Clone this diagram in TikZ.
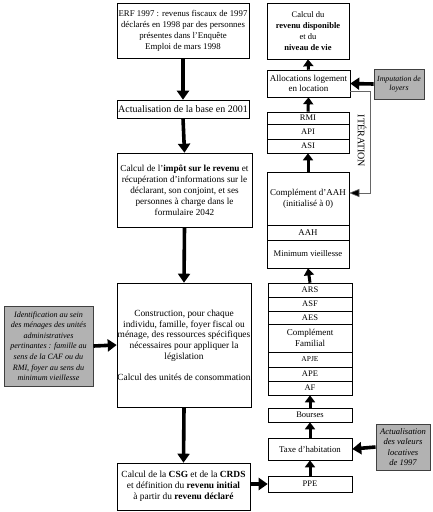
\documentclass[tikz,border=0pt]{standalone}
\usepackage{fontspec}
\setmainfont{Liberation Serif}
\usetikzlibrary{arrows.meta}
\begin{document}
\begin{tikzpicture}[x=1pt,y=-1pt,
  box/.style={draw, line width=0.6pt, inner sep=0pt, align=center, anchor=center,
    font=\fontsize{8.8}{11}\selectfont},
  rbox/.style={box, font=\fontsize{8.5}{10}\selectfont},
  gbox/.style={draw=black!75, fill=black!30, line width=0.9pt, inner sep=0pt, align=center,
    anchor=center, font=\itshape\fontsize{8.1}{10.6}\selectfont},
  bigarrow/.style={line width=3.6pt, -{Triangle[width=12pt,length=9pt]}},
  smallarrow/.style={line width=3pt, -{Triangle[width=10pt,length=7pt]}},
  iter/.style={draw=black!60, line width=0.6pt, -{Triangle[width=8pt,length=10pt,fill=black]}}
]
\useasboundingbox (0,0) rectangle (433,512);
\fill[white] (0,0) rectangle (433,512);

% left column
\node[box, minimum width=132pt, minimum height=55pt] (erf) at (183,30.5)
  {ERF 1997 : revenus fiscaux de 1997\\ déclarés en 1998 par des personnes\\ présentes dans l'Enquête\\ Emploi de mars 1998};
\node[box, minimum width=132pt, minimum height=18pt, font=\fontsize{10}{12}\selectfont] (actu) at (183,109)
  {Actualisation de la base en 2001};
\node[box, minimum width=135pt, minimum height=74pt, font=\fontsize{9.2}{11}\selectfont] (impot) at (184.5,190)
  {Calcul de l'\textbf{impôt sur le revenu} et\\ récupération d'informations sur le\\ déclarant, son conjoint, et ses\\ personnes à charge dans le\\ formulaire 2042};
\node[box, minimum width=134pt, minimum height=124pt, font=\fontsize{9.4}{10.8}\selectfont] (constr) at (184,345)
  {Construction, pour chaque\\ individu, famille, foyer fiscal ou\\ ménage, des ressources spécifiques\\ nécessaires pour appliquer la\\ législation\\[10pt] Calcul des unités de consommation};
\node[box, minimum width=133pt, minimum height=47pt, font=\fontsize{9.4}{11}\selectfont] (csg) at (183.5,486.5)
  {Calcul de la \textbf{CSG} et de la \textbf{CRDS}\\ et définition du \textbf{revenu initial}\\ à partir du \textbf{revenu déclaré}};

% right column
\node[box, minimum width=82pt, minimum height=56pt, font=\fontsize{8.5}{11}\selectfont] (revdisp) at (308,31)
  {Calcul du\\ \textbf{revenu disponible}\\ et du\\ \textbf{niveau de vie}};
\node[box, minimum width=83pt, minimum height=27pt, font=\fontsize{9}{10.5}\selectfont] (alloc) at (308.5,83.5)
  {Allocations logement\\ en location};
\node[rbox, minimum width=82pt, minimum height=12pt] (rmi) at (308,118) {RMI};
\node[rbox, minimum width=82pt, minimum height=15pt] (api) at (308,131.5) {API};
\node[rbox, minimum width=82pt, minimum height=14pt] (asi) at (308,146) {ASI};

\node[box, minimum width=82pt, minimum height=53pt, font=\fontsize{9}{11}\selectfont] (caah) at (308,198.5)
  {Complément d'AAH\\ (initialisé à 0)};
\node[rbox, minimum width=82pt, minimum height=15pt, font=\fontsize{8.8}{10}\selectfont] (aah) at (308,232.5) {AAH};
\node[rbox, minimum width=82pt, minimum height=28pt, font=\fontsize{8.6}{10}\selectfont] (minv) at (308,254) {Minimum vieillesse};

\node[rbox, minimum width=84pt, minimum height=14pt] (ars) at (310,290) {ARS};
\node[rbox, minimum width=84pt, minimum height=14pt] (asf) at (310,304) {ASF};
\node[rbox, minimum width=84pt, minimum height=13pt] (aes) at (310,317.5) {AES};
\node[rbox, minimum width=84pt, minimum height=28pt, font=\fontsize{9}{11}\selectfont] (cf) at (310,338) {Complément\\ Familial};
\node[rbox, minimum width=84pt, minimum height=15pt, font=\fontsize{7.5}{9}\selectfont] (apje) at (310,359.5) {APJE};
\node[rbox, minimum width=84pt, minimum height=14pt] (ape) at (310,374) {APE};
\node[rbox, minimum width=84pt, minimum height=14pt] (af) at (310,388) {AF};

\node[rbox, minimum width=84pt, minimum height=14pt] (bourses) at (310,415) {Bourses};
\node[rbox, minimum width=84pt, minimum height=22pt, font=\fontsize{8.8}{10}\selectfont] (taxe) at (310,449) {Taxe d'habitation};
\node[rbox, minimum width=84pt, minimum height=16pt] (ppe) at (310,484) {PPE};

% grey boxes
\node[gbox, minimum width=50pt, minimum height=30pt, font=\itshape\fontsize{7.8}{9.5}\selectfont] (imput) at (399,84)
  {Imputation de\\ loyers};
\node[gbox, minimum width=54pt, minimum height=46pt, font=\itshape\fontsize{8.6}{10.5}\selectfont] (actval) at (403,447)
  {Actualisation\\ des valeurs\\ locatives\\ de 1997};
\node[gbox, minimum width=89pt, minimum height=80pt] (ident) at (48.5,346)
  {Identification au sein\\ des ménages des unités\\ administratives\\ pertinantes : famille au\\ sens de la CAF ou du\\ RMI, foyer au sens du\\ minimum vieillesse};

% left column arrows
\draw[bigarrow] (erf.south) -- (actu.north);
\draw[bigarrow] (actu.south) -- (impot.north);
\draw[bigarrow] (impot.south) -- (constr.north);
\draw[bigarrow] (constr.south) -- (csg.north);
\draw[bigarrow] (ident.east) -- (constr.west);
\draw[bigarrow] (csg.east |- ppe.west) -- (ppe.west);

% right column arrows
\draw[smallarrow] (alloc.north) -- (revdisp.south);
\draw[smallarrow] (rmi.north) -- (alloc.south);
\draw[smallarrow] (caah.north) -- (asi.south);
\draw[smallarrow] (ars.north) -- (minv.south);
\draw[smallarrow] (bourses.north) -- (af.south);
\draw[smallarrow] (taxe.north) -- (bourses.south);
\draw[smallarrow] (ppe.north) -- (taxe.south);
\draw[bigarrow] (imput.west) -- (alloc.east);
\draw[bigarrow] (actval.west) -- (taxe.east);

% iteration loop
\coordinate (it1) at (370,91);
\coordinate (it2) at (370,193);
\draw[iter] (alloc.east |- it1) -- (it1) -- (it2) -- (caah.east |- it2);
\node[rotate=-90, inner sep=0pt, font=\fontsize{10}{12}\selectfont] (itlabel) at (362,141) {ITÉRATION};
\end{tikzpicture}
\end{document}
